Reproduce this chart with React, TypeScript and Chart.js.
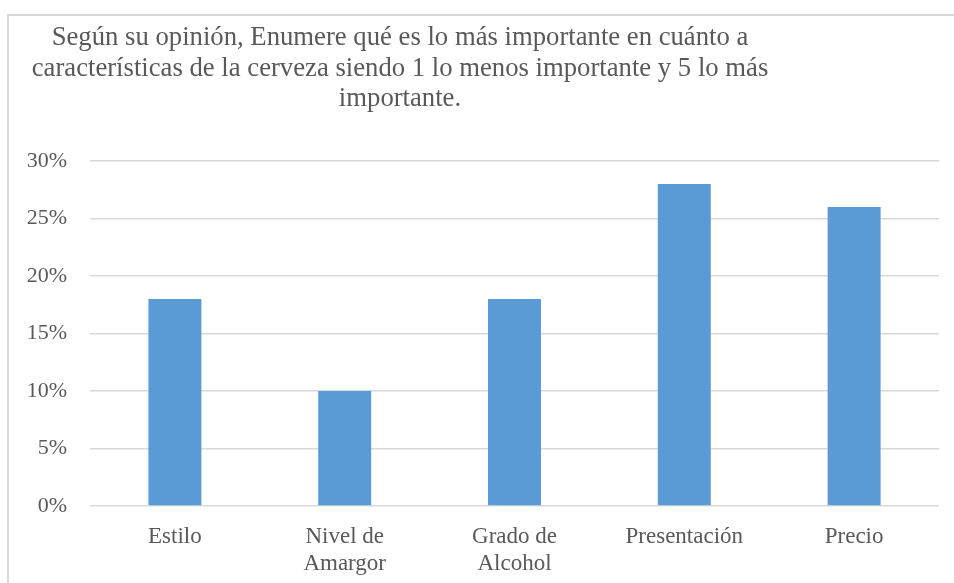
import React, { useEffect, useRef } from "react";
import { Chart, registerables } from "chart.js";

Chart.register(...registerables);

const titleLines = [
  "Según su opinión, Enumere qué es lo más importante en cuánto a",
  "características de la cerveza siendo 1 lo menos importante y 5 lo más",
  "importante.",
];
const categories: (string | string[])[] = [
  "Estilo",
  ["Nivel de", "Amargor"],
  ["Grado de", "Alcohol"],
  "Presentación",
  "Precio",
];
const values = [18, 10, 18, 28, 26];
const yMin = 0;
const yMax = 30;
const yStep = 5;

const FONT = "'Liberation Serif', 'Times New Roman', serif";
const TEXT = "#595959";

const titlePlugin = {
  id: "leftTitle",
  afterDraw(chart: any) {
    const ctx = chart.ctx;
    ctx.save();
    ctx.font = "26.7px " + FONT;
    ctx.fillStyle = TEXT;
    ctx.textAlign = "center";
    ctx.textBaseline = "alphabetic";
    titleLines.forEach((l, i) => {
      ctx.fillText(l, 400, 45 + i * 30.5);
    });
    ctx.restore();
  },
};

export default function App() {
  const ref = useRef<HTMLCanvasElement | null>(null);
  useEffect(() => {
    if (!ref.current) return;
    const chart = new Chart(ref.current, {
      type: "bar",
      data: {
        labels: categories,
        datasets: [
          {
            data: values,
            backgroundColor: "#5B9BD5",
            borderWidth: 0,
            barPercentage: 0.312,
            categoryPercentage: 1,
          },
        ],
      },
      options: {
        animation: false,
        responsive: false,
        maintainAspectRatio: false,
        layout: { padding: { top: 161, right: 15, left: 0, bottom: 0 } },
        plugins: {
          legend: { display: false },
          title: { display: false },
          tooltip: { enabled: false },
        },
        scales: {
          x: {
            grid: { display: false },
            border: { display: false },
            ticks: {
              color: TEXT,
              font: { family: FONT, size: 23, lineHeight: 1.2 },
              padding: 9,
              maxRotation: 0,
              autoSkip: false,
            },
            afterFit: (s: any) => {
              s.height = 77;
            },
          },
          y: {
            min: yMin,
            max: yMax,
            grid: { color: "#d9d9d9", lineWidth: 1.4, drawTicks: false },
            border: { display: false },
            ticks: {
              stepSize: yStep,
              color: TEXT,
              padding: 23,
              font: { family: FONT, size: 22 },
              callback: (v: any) => v + "%",
            },
            afterFit: (s: any) => {
              s.width = 90;
            },
          },
        },
      },
      plugins: [titlePlugin],
    });
    return () => chart.destroy();
  }, []);

  return (
    <div>
      <div
        style={{
          position: "absolute",
          left: 7,
          top: 14,
          width: 940,
          height: 569,
          boxSizing: "border-box",
          borderLeft: "2px solid #d9d9d9",
          borderTop: "2px solid #d9d9d9",
        }}
      />
      <div
        style={{
          position: "absolute",
          left: 947,
          top: 14,
          width: 7,
          height: 2,
          background: "#d9d9d9",
        }}
      />
      <canvas
        ref={ref}
        width={954}
        height={583}
        style={{ position: "absolute", left: 0, top: 0, width: 954, height: 583 }}
      />
    </div>
  );
}
